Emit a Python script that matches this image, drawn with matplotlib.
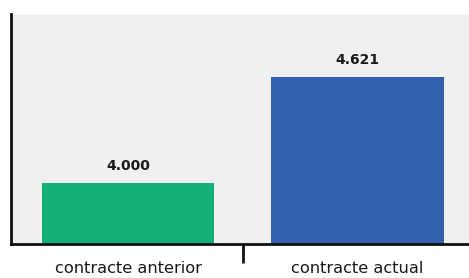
import matplotlib
matplotlib.use("Agg")
import matplotlib.pyplot as plt

categories = ["contracte anterior", "contracte actual"]
values = [4000, 4621]
value_labels = ["4.000", "4.621"]
colors = ["#10b077", "#3361ae"]

plt.rcParams['font.family'] = ['DejaVu Sans']

fig = plt.figure(figsize=(4.69, 2.78), dpi=100)
ax = fig.add_axes([11/469, 1-244/278, 1-11/469 + 0.002, (244-14)/278])
ax.set_facecolor("#f0f0f0")
x = list(range(len(categories)))
ax.bar(x, values, width=0.75, color=colors, zorder=2)
ax.set_xlim(-0.51, 1.49)
ax.set_ylim(3643, 4990)
for xi, v, lab in zip(x, values, value_labels):
    ax.text(xi, v + 60, lab, ha="center", va="bottom", fontsize=10, fontweight="bold", color="#1a1a1a")
ax.set_yticks([])
ax.set_xticks([0.5], minor=False)
ax.set_xticklabels([""])
ax.tick_params(axis="x", length=14, width=2, color="#111111")
for xi, c in zip(x, categories):
    ax.text(xi, -0.074, c, transform=ax.get_xaxis_transform(), ha="center", va="top", fontsize=11.7, color="#1a1a1a")
for s in ["top", "right"]:
    ax.spines[s].set_visible(False)
for s in ["left", "bottom"]:
    ax.spines[s].set_linewidth(2)
    ax.spines[s].set_color("#111111")
fig.savefig("out.png", dpi=100)
